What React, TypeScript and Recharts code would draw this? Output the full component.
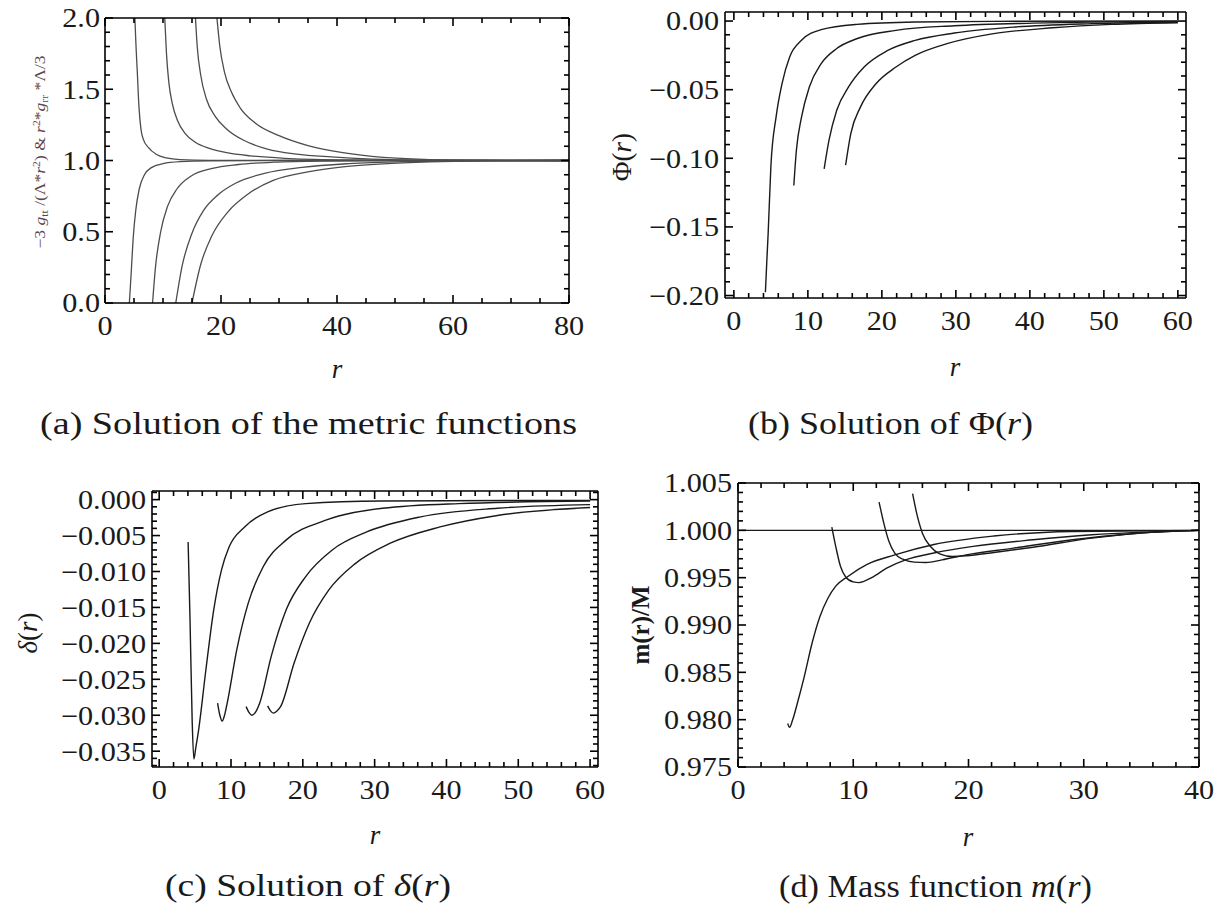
import { LineChart, Line, XAxis, YAxis, ReferenceLine } from 'recharts'

type Pt = [number, number]

// (a) metric functions, upper branch -3 g_tt/(Λ r²)
const metricUp1: Pt[] = [[5.15, 2.0], [5.35, 1.8], [5.57, 1.62], [5.85, 1.38], [6.2, 1.22], [6.6, 1.15], [7.5, 1.09], [8.9, 1.042], [10.6, 1.018], [12.9, 1.006], [18, 1.001], [80, 1.0]]
const metricUp2: Pt[] = [[10.3, 2.0], [10.6, 1.75], [11.0, 1.55], [11.6, 1.4], [12.5, 1.28], [13.8, 1.19], [15.5, 1.13], [18, 1.085], [21, 1.055], [25, 1.033], [31, 1.015], [40, 1.005], [55, 1.001], [80, 1.0]]
const metricUp3: Pt[] = [[15.6, 2.0], [15.9, 1.8], [16.5, 1.6], [17.5, 1.43], [19, 1.31], [21, 1.22], [24, 1.14], [28, 1.08], [33, 1.045], [39, 1.025], [46, 1.01], [55, 1.003], [80, 1.0]]
const metricUp4: Pt[] = [[19.3, 2.0], [19.8, 1.8], [20.6, 1.62], [21.8, 1.48], [23.3, 1.37], [26, 1.26], [30, 1.175], [35, 1.105], [41, 1.055], [48, 1.022], [55, 1.008], [65, 1.002], [80, 1.0]]
// (a) lower branch r² g_rr Λ/3
const metricLow1: Pt[] = [[4.2, 0], [4.5, 0.2], [4.85, 0.45], [5.3, 0.65], [5.9, 0.8], [6.8, 0.9], [8, 0.95], [10, 0.978], [13, 0.992], [18, 0.998], [30, 1.0], [80, 1.0]]
const metricLow2: Pt[] = [[8.2, 0], [8.7, 0.25], [9.6, 0.5], [10.8, 0.68], [12.4, 0.8], [14.8, 0.89], [18.5, 0.945], [23, 0.972], [29, 0.988], [38, 0.996], [50, 0.999], [80, 1.0]]
const metricLow3: Pt[] = [[12.2, 0], [13.3, 0.26], [15, 0.49], [17, 0.65], [19.5, 0.76], [22.5, 0.84], [27.5, 0.91], [34, 0.952], [42, 0.978], [52, 0.992], [65, 0.998], [80, 1.0]]
const metricLow4: Pt[] = [[15, 0], [16.5, 0.27], [18.4, 0.47], [21.2, 0.64], [24.5, 0.76], [29, 0.86], [35, 0.92], [41, 0.955], [48, 0.977], [56, 0.99], [66, 0.997], [80, 1.0]]
const metricTicksX = [0, 20, 40, 60, 80]
const metricTicksY = [0, 0.5, 1, 1.5, 2]

// (b) Φ(r)
const phi1: Pt[] = [[4.26, -0.1976], [4.45, -0.175], [4.63, -0.155], [5.0, -0.106], [5.7, -0.07], [6.5, -0.0457], [7.55, -0.026], [9.14, -0.014], [11.8, -0.0063], [16.6, -0.0024], [24.5, -0.0007], [35, -0.0002], [60, 0.0]]
const phi2: Pt[] = [[8.1, -0.1198], [8.45, -0.094], [9.14, -0.07], [10.2, -0.048], [11.8, -0.031], [13.9, -0.02], [16.6, -0.0129], [21.9, -0.0068], [29.8, -0.0034], [40.4, -0.0015], [60, -0.0002]]
const phi3: Pt[] = [[12.2, -0.1077], [12.85, -0.087], [13.9, -0.065], [15.5, -0.048], [17.6, -0.0335], [20.8, -0.0214], [24.5, -0.0141], [29.8, -0.0087], [37.8, -0.0044], [48.4, -0.0019], [60, -0.0007]]
const phi4: Pt[] = [[15.1, -0.105], [15.8, -0.082], [17.1, -0.0627], [19.2, -0.0457], [21.9, -0.0335], [24.5, -0.025], [28.8, -0.0165], [35.1, -0.0092], [43.1, -0.0049], [51, -0.0024], [60, -0.0012]]
const phiTicksX = [0, 10, 20, 30, 40, 50, 60]
const phiTicksY = [-0.2, -0.15, -0.1, -0.05, 0]

// (c) δ(r)
const delta1: Pt[] = [[4.03, -0.0059], [4.3, -0.017], [4.6, -0.031], [4.83, -0.0361], [5.1, -0.0345], [5.47, -0.0322], [6.5, -0.0237], [7.6, -0.0153], [8.67, -0.0098], [9.73, -0.0066], [11.9, -0.0038], [15.1, -0.0017], [20.4, -0.00055], [31, -0.0002], [60, -0.0001]]
const delta2: Pt[] = [[8.13, -0.0283], [8.45, -0.03], [8.77, -0.0308], [9.1, -0.03], [9.47, -0.0283], [10.8, -0.0209], [12.4, -0.0144], [14.5, -0.0093], [17.7, -0.0056], [23.1, -0.0029], [31.1, -0.0012], [41.7, -0.00055], [60, -0.0002]]
const delta3: Pt[] = [[12.1, -0.0288], [12.5, -0.0296], [12.9, -0.03], [13.4, -0.0296], [14.0, -0.0283], [15.6, -0.0218], [17.7, -0.0153], [20.4, -0.0107], [24.1, -0.007], [28.9, -0.0045], [36.4, -0.0024], [47.1, -0.0012], [60, -0.0007]]
const delta4: Pt[] = [[15.1, -0.0287], [15.5, -0.0294], [15.9, -0.0297], [16.4, -0.0294], [16.9, -0.0288], [18.8, -0.0227], [20.9, -0.0172], [23.6, -0.0126], [27.3, -0.0089], [32.1, -0.0061], [39.1, -0.0038], [47.1, -0.0022], [60, -0.0011]]
const deltaTicksX = [0, 10, 20, 30, 40, 50, 60]
const deltaTicksY = [-0.035, -0.03, -0.025, -0.02, -0.015, -0.01, -0.005, 0]

// (d) m(r)/M
const mass1: Pt[] = [[4.31, 0.9796], [4.48, 0.9792], [4.72, 0.9799], [5.23, 0.9821], [5.74, 0.9845], [6.43, 0.9881], [7.11, 0.9909], [7.79, 0.9928], [8.48, 0.9941], [9.5, 0.9951], [11.2, 0.9964], [13.6, 0.9974], [17.0, 0.9985], [22.2, 0.9994], [29, 0.99988], [40, 1.0]]
const mass2: Pt[] = [[8.14, 1.00034], [8.48, 0.9983], [8.89, 0.9962], [9.33, 0.9951], [10.0, 0.99455], [10.5, 0.99448], [11.6, 0.995], [12.9, 0.996], [14.6, 0.9969], [17.0, 0.9976], [20.4, 0.9983], [25.6, 0.999], [30.7, 0.99953], [40, 1.0]]
const mass3: Pt[] = [[12.24, 1.00299], [12.65, 1.00077], [13.1, 0.99882], [13.6, 0.99759], [14.3, 0.99695], [15.3, 0.99664], [16.3, 0.9966], [17.7, 0.99688], [19.8, 0.99741], [23.9, 0.99812], [29, 0.999], [34.1, 0.99964], [40, 1.0]]
const mass4: Pt[] = [[15.15, 1.00387], [15.5, 1.00182], [16.0, 0.9997], [16.7, 0.99829], [17.5, 0.99752], [18.6, 0.99724], [19.8, 0.99731], [22.2, 0.99766], [25.6, 0.99822], [30.7, 0.99918], [35.8, 0.99978], [40, 1.0]]
const massUnit: Pt[] = [[0, 1.0], [40, 1.0]]
const massTicksX = [0, 10, 20, 30, 40]
const massTicksY = [0.975, 0.98, 0.985, 0.99, 0.995, 1.0, 1.005]

const FONT = '"Liberation Serif", "Times New Roman", serif'
const TXT = '#1a1a1a'

const toRows = (pts: Pt[]) => pts.map(([x, y]) => ({ x, y }))
const minus = (s: string) => s.replace('-', '\u2212')

// major ticks plus the minor ones in between, kept inside the domain
function allTicks(major: number[], step: number, [lo, hi]: [number, number]) {
  let v = major[0]
  while (v - step >= lo - 1e-9) v -= step
  const out: number[] = []
  for (; v <= hi + 1e-9; v += step) out.push(+v.toFixed(6))
  return out
}

interface PanelProps {
  box: { x: number; y: number; w: number; h: number }
  plot: { l: number; t: number; r: number; b: number }
  xDomain: [number, number]
  yDomain: [number, number]
  xMajor: number[]
  xStep: number
  yMajor: number[]
  yStep: number
  yFmt: (v: number) => string
  yGap: number
  curves: Pt[][]
  stroke: string
  width: number
}

function Panel({ box, plot, xDomain, yDomain, xMajor, xStep, yMajor, yStep, yFmt, yGap, curves, stroke, width }: PanelProps) {
  const plotW = plot.r - plot.l
  const plotH = plot.b - plot.t
  const [x0, x1] = xDomain
  const [y0, y1] = yDomain
  const isMaj = (list: number[], v: number, step: number) => list.some((m) => Math.abs(m - v) < step / 10)
  const xs = allTicks(xMajor, xStep, xDomain)
  const ys = allTicks(yMajor, yStep, yDomain)
  // tick lengths in data units (8px major, 5px minor)
  const dy = (major: boolean) => ((major ? 8 : 5) / plotH) * (y1 - y0)
  const dx = (major: boolean) => ((major ? 8 : 5) / plotW) * (x1 - x0)

  const xTick = (p: any) => {
    const { x, y, payload } = p
    if (!isMaj(xMajor, payload.value, xStep)) return <g />
    return (
      <text
        transform={`translate(${x},${y + 23}) scale(1.12,1)`}
        textAnchor="middle"
        dominantBaseline="central"
        fontFamily={FONT}
        fontSize={27}
        fill={TXT}
      >
        {String(payload.value)}
      </text>
    )
  }

  const yTick = (p: any) => {
    const { x, y, payload } = p
    if (!isMaj(yMajor, payload.value, yStep)) return <g />
    return (
      <text
        transform={`translate(${x - yGap},${y}) scale(1.12,1)`}
        textAnchor="end"
        dominantBaseline="central"
        fontFamily={FONT}
        fontSize={27}
        fill={TXT}
      >
        {yFmt(payload.value)}
      </text>
    )
  }

  const tickStyle = { stroke: '#000', strokeWidth: 1.6, ifOverflow: 'visible' as const }
  const frameStyle = { stroke: '#000', strokeWidth: 1.6, ifOverflow: 'visible' as const }

  return (
    <div style={{ position: 'absolute', left: box.x, top: box.y }}>
      <LineChart
        width={box.w}
        height={box.h}
        margin={{ top: plot.t - box.y, right: box.x + box.w - plot.r, bottom: 0, left: 0 }}
      >
        <XAxis
          type="number"
          dataKey="x"
          domain={xDomain}
          allowDataOverflow
          ticks={xs}
          interval={0}
          tick={xTick}
          tickLine={false}
          axisLine={{ stroke: '#000', strokeWidth: 1.6 }}
          tickSize={0}
          tickMargin={0}
          height={box.y + box.h - plot.b}
        />
        <YAxis
          type="number"
          domain={yDomain}
          allowDataOverflow
          ticks={ys}
          interval={0}
          tick={yTick}
          tickLine={false}
          axisLine={{ stroke: '#000', strokeWidth: 1.6 }}
          tickSize={0}
          tickMargin={0}
          width={plot.l - box.x}
        />
        {curves.map((c, i) => (
          <Line
            key={i}
            data={toRows(c)}
            dataKey="y"
            type="monotone"
            stroke={stroke}
            strokeWidth={width}
            dot={false}
            isAnimationActive={false}
          />
        ))}
        <ReferenceLine y={y1} {...frameStyle} />
        <ReferenceLine x={x1} {...frameStyle} />
        {xs.map((v) => {
          const d = dy(isMaj(xMajor, v, xStep))
          return [
            <ReferenceLine key={`xb${v}`} segment={[{ x: v, y: y0 }, { x: v, y: y0 + d }]} {...tickStyle} />,
            <ReferenceLine key={`xt${v}`} segment={[{ x: v, y: y1 }, { x: v, y: y1 - d }]} {...tickStyle} />,
          ]
        })}
        {ys.map((v) => {
          const d = dx(isMaj(yMajor, v, yStep))
          return [
            <ReferenceLine key={`yl${v}`} segment={[{ x: x0, y: v }, { x: x0 + d, y: v }]} {...tickStyle} />,
            <ReferenceLine key={`yr${v}`} segment={[{ x: x1, y: v }, { x: x1 - d, y: v }]} {...tickStyle} />,
          ]
        })}
      </LineChart>
    </div>
  )
}

const sub = (s: string) => (
  <>
    <tspan dy={3} fontSize={10}>{s}</tspan>
    <tspan dy={-3}> </tspan>
  </>
)

export default function App() {
  return (
    <div style={{ position: 'absolute', left: 0, top: 0, width: 1217, height: 912, background: '#fff', overflow: 'hidden' }}>
      <Panel
        box={{ x: 0, y: 0, w: 600, h: 400 }}
        plot={{ l: 105, t: 18, r: 569, b: 303 }}
        xDomain={[0, 80]}
        yDomain={[0, 2]}
        xMajor={metricTicksX}
        xStep={5}
        yMajor={metricTicksY}
        yStep={0.1}
        yFmt={(v) => v.toFixed(1)}
        yGap={5}
        curves={[metricUp1, metricUp2, metricUp3, metricUp4, metricLow1, metricLow2, metricLow3, metricLow4]}
        stroke="#4d4d4d"
        width={1.3}
      />
      <Panel
        box={{ x: 608, y: 0, w: 609, h: 400 }}
        plot={{ l: 725, t: 12, r: 1186, b: 298 }}
        xDomain={[-1.2, 61.1]}
        yDomain={[-0.2018, 0.0066]}
        xMajor={phiTicksX}
        xStep={2}
        yMajor={phiTicksY}
        yStep={0.01}
        yFmt={(v) => minus(v.toFixed(2))}
        yGap={6}
        curves={[phi1, phi2, phi3, phi4]}
        stroke="#1a1a1a"
        width={1.4}
      />
      <Panel
        box={{ x: 0, y: 440, w: 608, h: 472 }}
        plot={{ l: 152, t: 491, r: 598, b: 767 }}
        xDomain={[-1, 61.1]}
        yDomain={[-0.0372, 0.0012]}
        xMajor={deltaTicksX}
        xStep={2}
        yMajor={deltaTicksY}
        yStep={0.001}
        yFmt={(v) => minus(v.toFixed(3))}
        yGap={6}
        curves={[delta1, delta2, delta3, delta4]}
        stroke="#1a1a1a"
        width={1.4}
      />
      <Panel
        box={{ x: 608, y: 440, w: 609, h: 472 }}
        plot={{ l: 738, t: 483, r: 1199, b: 767 }}
        xDomain={[0, 40]}
        yDomain={[0.975, 1.005]}
        xMajor={massTicksX}
        xStep={2}
        yMajor={massTicksY}
        yStep={0.001}
        yFmt={(v) => v.toFixed(3)}
        yGap={6}
        curves={[massUnit, mass1, mass2, mass3, mass4]}
        stroke="#1a1a1a"
        width={1.4}
      />

      <svg width={1217} height={912} style={{ position: 'absolute', left: 0, top: 0, pointerEvents: 'none' }}>
        <g fontFamily={FONT} fill={TXT}>
          {/* axis titles */}
          <text
            transform="translate(45,152) rotate(-90)"
            textAnchor="middle"
            fontSize={15}
            fill="#5a4650"
            textLength={193}
            lengthAdjust="spacingAndGlyphs"
          >
            {'\u22123 '}
            <tspan fontStyle="italic">g</tspan>
            {sub('tt')}
            {'/(\u039B*'}
            <tspan fontStyle="italic">r</tspan>
            <tspan dy={-5} fontSize={10}>2</tspan>
            <tspan dy={5}>{') & '}</tspan>
            <tspan fontStyle="italic">r</tspan>
            <tspan dy={-5} fontSize={10}>2</tspan>
            <tspan dy={5}>*</tspan>
            <tspan fontStyle="italic">g</tspan>
            {sub('rr')}
            {'*\u039B/3'}
          </text>
          <text transform="translate(631,157) rotate(-90)" textAnchor="middle" fontSize={27}>
            {'\u03A6('}
            <tspan fontStyle="italic">r</tspan>
            {')'}
          </text>
          <text transform="translate(37,633) rotate(-90)" textAnchor="middle" fontSize={27}>
            <tspan fontStyle="italic">{'\u03B4'}</tspan>
            {'('}
            <tspan fontStyle="italic">r</tspan>
            {')'}
          </text>
          <text transform="translate(649,625) rotate(-90)" textAnchor="middle" fontSize={25} fontWeight="bold">
            m(r)/M
          </text>
          <text x={337} y={378} textAnchor="middle" fontSize={27} fontStyle="italic">r</text>
          <text x={955} y={376} textAnchor="middle" fontSize={27} fontStyle="italic">r</text>
          <text x={375} y={844} textAnchor="middle" fontSize={27} fontStyle="italic">r</text>
          <text x={968} y={846} textAnchor="middle" fontSize={27} fontStyle="italic">r</text>

          {/* captions */}
          <text x={40} y={434} fontSize={31} textLength={537} lengthAdjust="spacingAndGlyphs">
            (a) Solution of the metric functions
          </text>
          <text x={748} y={434} fontSize={31} textLength={285} lengthAdjust="spacingAndGlyphs">
            {'(b) Solution of \u03A6('}
            <tspan fontStyle="italic">r</tspan>
            {')'}
          </text>
          <text x={165} y={896} fontSize={31} textLength={286} lengthAdjust="spacingAndGlyphs">
            {'(c) Solution of '}
            <tspan fontStyle="italic">{'\u03B4'}</tspan>
            {'('}
            <tspan fontStyle="italic">r</tspan>
            {')'}
          </text>
          <text x={779} y={897} fontSize={31} textLength={313} lengthAdjust="spacingAndGlyphs">
            {'(d) Mass function '}
            <tspan fontStyle="italic">m</tspan>
            {'('}
            <tspan fontStyle="italic">r</tspan>
            {')'}
          </text>
        </g>
      </svg>
    </div>
  )
}
